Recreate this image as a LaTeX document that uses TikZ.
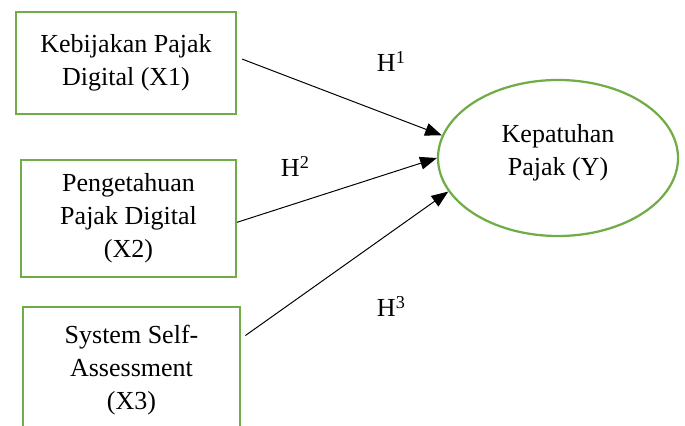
\documentclass[tikz,border=0pt]{standalone}
\usepackage{fontspec}
\setmainfont{Liberation Serif}
\usepackage{tikz}
\usepackage{xcolor}
\usetikzlibrary{shapes.geometric, arrows.meta}

\definecolor{boxgreen}{HTML}{70AD47}

\begin{document}
\begin{tikzpicture}[
  every node/.style={font=\fontsize{18.5}{23.5}\selectfont},
  varbox/.style={draw=boxgreen, line width=1.6pt, align=center, inner sep=0pt},
  arr/.style={-{Triangle[length=0.42cm,width=0.32cm]}, line width=0.7pt},
  hyp/.style={anchor=base west}
]
\useasboundingbox (0,0) rectangle (17.125,10.625);
\clip (0,0) rectangle (17.125,10.625);

% Independent variables
\node[varbox, minimum width=5.5cm, minimum height=2.55cm] (x1) at (3.15,9.05) {Kebijakan Pajak\\Digital (X1)};
\node[varbox, minimum width=5.375cm, minimum height=2.925cm] (x2) at (3.2125,5.1625) {Pengetahuan\\Pajak Digital\\(X2)};
\node[varbox, minimum width=5.425cm, minimum height=3.15cm] (x3) at (3.2875,1.375) {System Self-\\Assessment\\(X3)};

% Dependent variable
\node[ellipse, draw=boxgreen, line width=1.6pt, align=center, inner sep=0pt,
      minimum width=6cm, minimum height=3.9cm] (y) at (13.95,6.675) {Kepatuhan\\Pajak (Y)\\[-12pt]};

% Hypotheses
\draw[arr, shorten <=0.13cm] (x1.3) -- (y.169);
\draw[arr] (x2.-2) -- (y.180);
\draw[arr, shorten <=0.13cm] (x3.16) -- (y.197);

\node[hyp] (h1) at (9.3,8.825) {H\textsuperscript{1}};
\node[hyp] (h2) at (6.9,6.2) {H\textsuperscript{2}};
\node[hyp] (h3) at (9.3,2.7) {H\textsuperscript{3}};
\end{tikzpicture}
\end{document}
